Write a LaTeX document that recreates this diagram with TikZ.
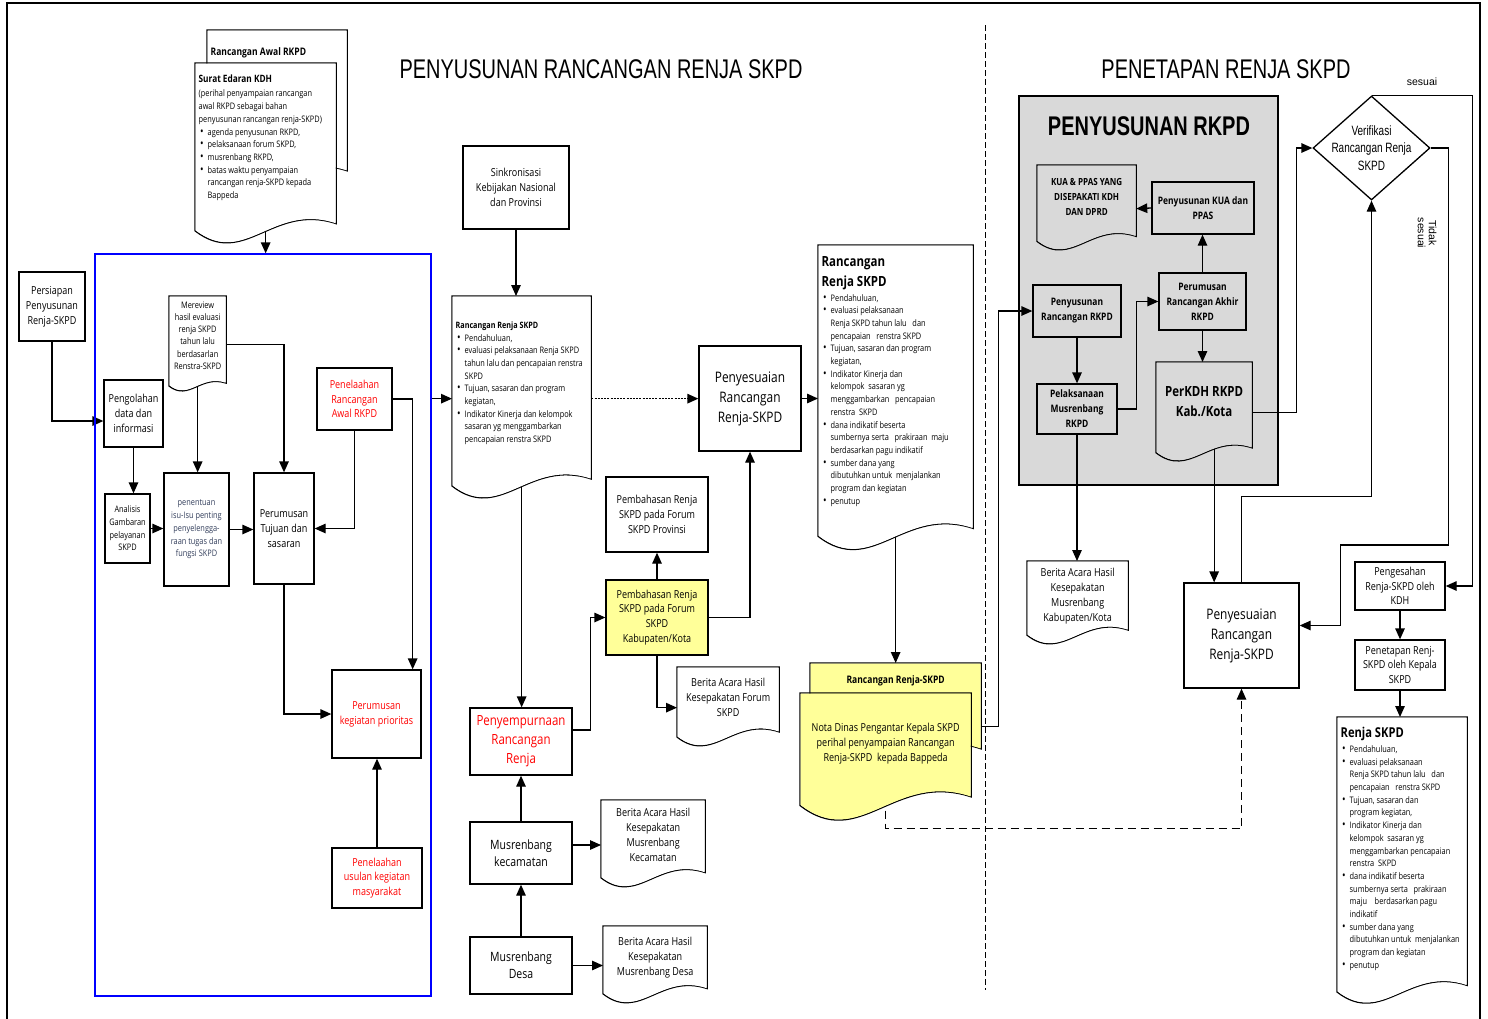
\documentclass[tikz,border=0pt]{standalone}
\usepackage{fontspec}
\setmainfont{Open Sans}[FakeStretch=0.82]
\newfontfamily\narrowfont{Liberation Sans}[FakeStretch=0.74]
\newfontfamily\arialfont{Liberation Sans}
\usetikzlibrary{arrows.meta,calc,shapes.geometric}
\definecolor{rkgrey}{HTML}{D9D9D9}
\definecolor{notey}{HTML}{FFFF99}
\definecolor{isublue}{HTML}{333F5C}
\pgfdeclarelayer{bg}
\pgfdeclarelayer{lines}
\pgfsetlayers{bg,lines,main}

\newcommand\docpath[1]{let \p1=(#1.north west), \p2=(#1.south east), \n1={\x2-\x1} in
  (\x1,\y1) -- (\x2,\y1) -- (\x2,\y2+0.16*\n1)
  .. controls (\x1+0.55*\n1,\y2+0.31*\n1) and (\x1+0.35*\n1,\y2-0.16*\n1) ..
  (\x1,\y2+0.11*\n1) -- cycle}
\newcommand\docin[4]{\parbox[c][#2pt][t]{\dimexpr#1pt-6pt\relax}{\lineskip=0pt\lineskiplimit=0pt\vspace*{#3pt}#4}}
\newcommand\bullets[1]{\par\noindent\begin{tabular}[t]{@{\hspace{1.5pt}}l@{\hspace{4pt}}l@{}}#1\end{tabular}\par}
\newcommand\plainlines[1]{\par\noindent\begin{tabular}[t]{@{}l@{}}#1\end{tabular}\par}
\newcommand\bu{{\fontsize{11.5}{11}\selectfont\textbullet}&}

\begin{document}
\begin{tikzpicture}[x=1pt, y=-1pt, line width=1.3pt,
  >={Triangle[length=11pt,width=9.5pt]},
  box/.style={draw=black, line width=1.3pt, fill=white, align=center, inner sep=1pt,
    font=\fontsize{11}{14.8}\selectfont},
  rkbox/.style={box, fill=rkgrey, font=\bfseries\fontsize{10.3}{15}\selectfont},
  sz/.style 2 args={minimum width=#1pt, minimum height=#2pt},
  smalltxt/.style={font=\fontsize{9}{12.7}\selectfont},
  midtxt/.style={font=\fontsize{12.8}{17}\selectfont},
  bigtxt/.style={font=\fontsize{14.5}{20}\selectfont},
  hot/.style={text=red},
  vtxt/.style={align=center, font=\narrowfont\fontsize{13.5}{17.5}\selectfont},
  doc/.style={anchor=north west, inner xsep=3pt, inner ysep=0pt,
    font=\fontsize{11}{15}\selectfont,
    path picture={\fill[#1] \docpath{path picture bounding box};},
    append after command={\pgfextra{\draw[black, line width=1.3pt] \docpath{\tikzlastnode};}}},
  doc/.default=white]
  \useasboundingbox (0,0) rectangle (1488,1018);
  \draw[line width=1.4pt] (7,1022) |- (1480,3) -- (1480,1022);
  \draw[dash pattern=on 6pt off 3pt, line width=0.9pt] (985,25) -- (985,990);

  \node[font=\narrowfont\fontsize{27}{30}\selectfont] (ttl1) at (601,69) {PENYUSUNAN RANCANGAN RENJA SKPD};
  \node[font=\narrowfont\fontsize{27}{30}\selectfont] (ttl2) at (1226,69) {PENETAPAN RENJA SKPD};

  \node[doc] (awal) at (207,30) {\docin{139}{162}{16.8}{\bfseries\fontsize{10.4}{13}\selectfont Rancangan Awal RKPD}};
  \node[doc, smalltxt] (surat) at (195,63) {\docin{140}{182}{11}{{\bfseries\fontsize{10.1}{13}\selectfont Surat Edaran KDH\par}\vspace{1.9pt}
    \plainlines{(perihal penyampaian rancangan\\awal RKPD sebagai bahan\\penyusunan rancangan renja-SKPD)}
    \bullets{\bu agenda penyusunan RKPD,\\ \bu pelaksanaan forum SKPD,\\ \bu musrenbang RKPD,\\
      \bu batas waktu penyampaian\\ & rancangan renja-SKPD kepada\\ & Bappeda}}};

  \node[draw=blue, line width=1.3pt, sz={336}{742}] (proc) at (263,625) {};
  \node[box, sz={66}{69}] (pers) at (52,306.5) {Persiapan\\Penyusunan\\Renja-SKPD};
  \node[box, sz={59}{67}] (peng) at (133.5,413.5) {Pengolahan\\data dan\\informasi};
  \node[box, smalltxt, sz={45}{69}] (anal) at (127.5,528.5) {Analisis\\Gambaran\\pelayanan\\SKPD};
  \node[doc, font=\fontsize{9}{12.3}\selectfont] (merev) at (169,296) {\docin{56}{95}{4.8}{\centering Mereview\\hasil evaluasi\\renja SKPD\\tahun lalu\\berdasarlan\\Renstra-SKPD}};
  \node[box, smalltxt, text=isublue, sz={65}{113}] (penen) at (196.5,529.5) {penentuan\\isu-Isu penting\\penyelengga-\\raan tugas dan\\fungsi SKPD};
  \node[box, sz={60}{111}] (tujuan) at (284,528.5) {Perumusan\\Tujuan dan\\sasaran};
  \node[box, hot, sz={75}{62}] (pawal) at (354.5,399) {Penelaahan\\Rancangan\\Awal RKPD};
  \node[box, hot, sz={89}{88}] (kegp) at (376.5,714) {Perumusan\\kegiatan prioritas};
  \node[box, hot, sz={90}{60}] (usul) at (377,878) {Penelaahan\\usulan kegiatan\\masyarakat};

  \node[box, sz={106}{83}] (sink) at (516,187.5) {Sinkronisasi\\Kebijakan Nasional\\dan Provinsi};
  \node[doc, smalltxt] (rrs) at (452,296) {\docin{138}{204}{25}{{\bfseries\fontsize{8.8}{12}\selectfont Rancangan Renja SKPD\par}
    \bullets{\bu Pendahuluan,\\
      \bu evaluasi pelaksanaan Renja SKPD\\ & tahun lalu dan pencapaian renstra\\ & SKPD\\
      \bu Tujuan, sasaran dan program\\ & kegiatan,\\
      \bu Indikator Kinerja dan kelompok\\ & sasaran yg menggambarkan\\ & pencapaian renstra SKPD}}};
  \node[box, bigtxt, sz={102}{105}] (pmid) at (750,398.5) {Penyesuaian\\Rancangan\\Renja-SKPD};
  \node[box, sz={102}{75}] (prov) at (657,514.5) {Pembahasan Renja\\SKPD pada Forum\\SKPD Provinsi};
  \node[box, fill=notey, sz={102}{75}] (kab) at (657,617.5) {Pembahasan Renja\\SKPD pada Forum\\SKPD\\Kabupaten/Kota};
  \node[doc] (forum) at (677,667) {\docin{101}{80}{10.5}{\centering Berita Acara Hasil\\Kesepakatan Forum\\SKPD}};
  \node[box, hot, font=\fontsize{14}{19}\selectfont, sz={102}{67}] (sempurna) at (521,741.5) {Penyempurnaan\\Rancangan\\Renja};
  \node[box, midtxt, sz={102}{62}] (kec) at (521,853) {Musrenbang\\kecamatan};
  \node[box, midtxt, sz={102}{57}] (desa) at (521,965.5) {Musrenbang\\Desa};
  \node[doc] (bkec) at (601,800) {\docin{103}{88}{7.5}{\centering Berita Acara Hasil\\Kesepakatan\\Musrenbang\\Kecamatan}};
  \node[doc] (bdesa) at (603,926) {\docin{103}{78}{10.5}{\centering Berita Acara Hasil\\Kesepakatan\\Musrenbang Desa}};

  \node[doc, smalltxt] (rrs2) at (818,245) {\docin{154}{307}{11}{{\bfseries\fontsize{14}{20}\selectfont Rancangan\\Renja SKPD\par}\vspace{1.7pt}
    \bullets{\bu Pendahuluan,\\
      \bu evaluasi pelaksanaan\\ & Renja SKPD tahun lalu\ \ \ dan\\ & pencapaian\ \ \ renstra SKPD\\
      \bu Tujuan, sasaran dan program\\ & kegiatan,\\
      \bu Indikator Kinerja dan\\ & kelompok\ \ sasaran yg\\ & menggambarkan\ \ \ pencapaian\\ & renstra\ \ SKPD\\
      \bu dana indikatif beserta\\ & sumbernya serta\ \ \ prakiraan\ \ maju\\ & berdasarkan pagu indikatif\\
      \bu sumber dana yang\\ & dibutuhkan untuk\ \ menjalankan\\ & program dan kegiatan\\
      \bu penutup}}};
  \node[doc=notey] (ydoc1) at (810,663) {\docin{170}{112}{12.3}{\centering\bfseries\fontsize{10.4}{13}\selectfont Rancangan Renja-SKPD}};
  \node[doc=notey] (ydoc2) at (800,693) {\docin{170}{130}{29.5}{\centering Nota Dinas Pengantar Kepala SKPD\\perihal penyampaian Rancangan\\Renja-SKPD\ \ kepada Bappeda}};

  \node[font=\narrowfont\bfseries\fontsize{27}{30}\selectfont] (rkpdttl) at (1149,126) {PENYUSUNAN RKPD};
  \node[doc=rkgrey] (kua) at (1037,165) {\docin{98}{86}{12.4}{\centering\bfseries\fontsize{9.8}{15}\selectfont KUA \& PPAS YANG\\DISEPAKATI KDH\\DAN DPRD}};
  \node[rkbox, sz={102}{52}] (kuabox) at (1203,208) {Penyusunan KUA dan\\PPAS};
  \node[rkbox, sz={87}{57}] (akhir) at (1202.5,301.5) {Perumusan\\Rancangan Akhir\\RKPD};
  \node[rkbox, sz={88}{52}] (penrkpd) at (1077,311) {Penyusunan\\Rancangan RKPD};
  \node[rkbox, sz={80}{50}] (pelak) at (1077,409) {Pelaksanaan\\Musrenbang\\RKPD};
  \node[doc=rkgrey] (perkdh) at (1156,362) {\docin{95}{100}{24}{\centering\bfseries\fontsize{14}{19.5}\selectfont PerKDH RKPD\\Kab./Kota}};
  \node[doc] (bkab) at (1027,561) {\docin{100}{84}{6.5}{\centering Berita Acara Hasil\\Kesepakatan\\Musrenbang\\Kabupaten/Kota}};
  \node[box, bigtxt, sz={115}{105}] (pright) at (1241.5,635.5) {Penyesuaian\\Rancangan\\Renja-SKPD};
  \node[diamond, draw=black, line width=1.3pt, fill=white, inner sep=0pt, sz={117}{104},
    label={[vtxt]center:Verifikasi\\Rancangan Renja\\SKPD}] (verif) at (1371.5,148) {};
  \node[rotate=-90, align=center, font=\arialfont\fontsize{10.5}{11}\selectfont] (tdk) at (1427,233) {Tidak\\sesuai};
  \node[box, sz={90}{48}] (sah) at (1400,586) {Pengesahan\\Renja-SKPD oleh\\KDH};
  \node[box, sz={90}{50}] (tetap) at (1400,665) {Penetapan Renj-\\SKPD oleh Kepala\\SKPD};
  \node[doc, smalltxt] (renja) at (1337,717) {\docin{129}{288}{10}{{\bfseries\fontsize{13.6}{18}\selectfont Renja SKPD\par}\vspace{1.8pt}
    \bullets{\bu Pendahuluan,\\
      \bu evaluasi pelaksanaan\\ & Renja SKPD tahun lalu\ \ \ dan\\ & pencapaian\ \ \ renstra\ SKPD\\
      \bu Tujuan, sasaran dan\\ & program kegiatan,\\
      \bu Indikator Kinerja dan\\ & kelompok\ \ sasaran yg\\ & menggambarkan pencapaian\\ & renstra\ \ SKPD\\
      \bu dana indikatif beserta\\ & sumbernya serta\ \ \ prakiraan\\ & maju\ \ \ \ berdasarkan pagu\\ & indikatif\\
      \bu sumber dana yang\\ & dibutuhkan untuk\ \ menjalankan\\ & program dan kegiatan\\
      \bu penutup}}};

  \begin{pgfonlayer}{bg}
    \node[draw=black, line width=1.3pt, fill=rkgrey, sz={259}{389}] (rkpd) at (1148.5,290.5) {};
  \end{pgfonlayer}

  \begin{pgfonlayer}{lines}
  \begin{scope}[line width=1.3pt, black]
    \draw[->] (surat.center) -- (surat.center |- proc.north);
    \draw[->] (pers.south) |- ([yshift=-7.5pt]peng.west);
    \draw[->] (peng.south) -- (peng.south |- anal.north);
    \draw[->] (anal.east) -- (anal.east -| penen.west);
    \draw[->] (merev.center) -- (merev.center |- penen.north);
    \draw[->] (merev.east) -| (tujuan.north);
    \draw[->] (penen.east) -- (penen.east -| tujuan.west);
    \draw[->] (pawal.south) |- (tujuan.east);
    \draw[->] (pawal.east) -| ([xshift=-9pt]kegp.north east);
    \draw[->] (tujuan.south) |- (kegp.west);
    \draw[->] (usul.north) -- (usul.north |- kegp.south);
    \draw[->] (rrs.west -| proc.east) -- (rrs.west);

    \draw[->] (sink.south) -- (sink.south |- rrs.north);
    \draw[->, dash pattern=on 2pt off 1.2pt] (rrs.east) -- (rrs.east -| pmid.west);
    \draw[->] (pmid.east) -- (pmid.east -| rrs2.west);
    \draw[->] (rrs.center) -- (rrs.center |- sempurna.north);
    \draw[->] ([yshift=11.5pt]sempurna.east) -- ++(18,0) |- (kab.west);
    \draw[->] (kab.north) -- (prov.south);
    \draw[->] (kab.east) -| (pmid.south);
    \draw[->] (kab.south) |- (forum.west);
    \draw[->] (kec.north) -- (sempurna.south);
    \draw[->] ([yshift=8pt]kec.east) -- ([yshift=8pt]kec.east -| bkec.west);
    \draw[->] (desa.north) -- (kec.south);
    \draw[->] (desa.east) -- (desa.east -| bdesa.west);
    \draw[->] (rrs2.center) -- (rrs2.center |- ydoc1.north);
    \draw[->] ([yshift=-7pt]ydoc1.east) -- ++(17,0) |- (penrkpd.west);
    \draw[->, dash pattern=on 8pt off 5pt] (ydoc2.center) -- ++(0,70) -| (pright.south);

    \draw[->] (penrkpd.south) -- (pelak.north);
    \draw[->] (pelak.east) -- ++(19,0) |- (akhir.west);
    \draw[->] (akhir.north) -- (akhir.north |- kuabox.south);
    \draw[->] (kuabox.west) -- (kua.east);
    \draw[->] (akhir.south) -- (akhir.south |- perkdh.north);
    \draw[->] (pelak.south) -- (pelak.south |- bkab.north);
    \draw[->] ([xshift=10pt]perkdh.center) -- ([xshift=10pt]perkdh.center |- pright.north);
    \draw[->] (perkdh.east) -- ++(44,0) |- (verif.west);
    \draw[->] (pright.north) -- ++(0,-86) -| (verif.south);
    \draw[->] (verif.north) -- node[above=6pt, font=\arialfont\fontsize{10.5}{12}\selectfont] (ssuai) {sesuai} ++(101,0) |- (sah.east);
    \draw[->] (verif.east) -- ++(18,0) |- ++(-108,397) |- ([yshift=10pt]pright.east);
    \draw[->] (sah.south) -- (tetap.north);
    \draw[->] (tetap.south) -- (tetap.south |- renja.north);
  \end{scope}
  \end{pgfonlayer}
\end{tikzpicture}
\end{document}
